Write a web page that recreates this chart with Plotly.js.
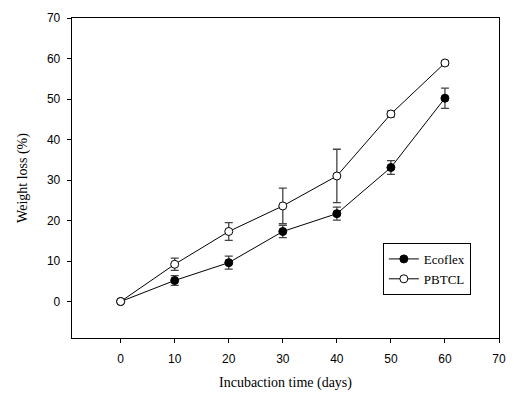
<!DOCTYPE html>
<html>
<head>
<meta charset="utf-8">
<script src="https://cdn.plot.ly/plotly-3.0.1.min.js"></script>
<style>html,body{margin:0;padding:0;background:#fff;}#chart{width:514px;height:395px;}</style>
</head>
<body>
<div id="chart"></div>
<script>
const days = [0, 10, 20, 30, 40, 50, 60];
const ecoflex = [0, 5.2, 9.6, 17.3, 21.7, 33.1, 50.2];
const ecoflexErr = [0, 1.2, 1.6, 1.5, 1.6, 1.7, 2.5];
const pbtcl = [0, 9.2, 17.3, 23.6, 31.0, 46.3, 58.9];
const pbtclErr = [0, 1.5, 2.2, 4.4, 6.6, 0.7, 0.5];
const xTicks = [0, 10, 20, 30, 40, 50, 60, 70];
const yTicks = [0, 10, 20, 30, 40, 50, 60, 70];

const errStyle = {type: 'data', visible: true, color: '#444', thickness: 1.3, width: 4};
const traces = [
  {x: days, y: ecoflex, name: 'Ecoflex', mode: 'lines+markers', type: 'scatter',
   line: {color: '#000', width: 1},
   marker: {symbol: 'circle', size: 8, color: '#000', line: {color: '#000', width: 1}},
   error_y: Object.assign({array: ecoflexErr}, errStyle)},
  {x: days, y: pbtcl, name: 'PBTCL', mode: 'lines+markers', type: 'scatter',
   line: {color: '#000', width: 1},
   marker: {symbol: 'circle', size: 8, color: '#fff', line: {color: '#000', width: 1}},
   error_y: Object.assign({array: pbtclErr}, errStyle)}
];

const sansFam = '"Liberation Sans", Arial, sans-serif';
const serifFam = '"Liberation Serif", "Times New Roman", serif';
const tickFont = {family: sansFam, size: 12, color: '#000'};
const titleFont = {family: serifFam, size: 14, color: '#000'};

const layout = {
  width: 514, height: 395,
  margin: {l: 72, r: 15, t: 18, b: 57},
  paper_bgcolor: '#fff', plot_bgcolor: '#fff',
  font: {family: sansFam, color: '#000'},
  showlegend: true,
  legend: {x: 0.728, y: 0.297, xanchor: 'left', yanchor: 'top',
    bgcolor: '#fff', bordercolor: '#000', borderwidth: 1,
    font: {family: serifFam, size: 13, color: '#000'},
    itemwidth: 30, tracegroupgap: 0},
  xaxis: {range: [-9, 70], tickvals: xTicks, ticktext: xTicks.map(String),
    showgrid: false, zeroline: false, showline: true, linecolor: '#000', linewidth: 1.3,
    mirror: true, ticks: 'outside', ticklen: 4, tickcolor: '#000', tickwidth: 1,
    tickfont: tickFont, ticklabelstandoff: 5,
    title: {text: 'Incubaction time (days)', font: titleFont, standoff: 12}},
  yaxis: {range: [-9, 70], tickvals: yTicks, ticktext: yTicks.map(String),
    showgrid: false, zeroline: false, showline: true, linecolor: '#000', linewidth: 1.3,
    mirror: true, ticks: 'outside', ticklen: 4, tickcolor: '#000', tickwidth: 1,
    tickfont: tickFont, ticklabelstandoff: 4,
    title: {text: 'Weight loss (%)', font: titleFont, standoff: 16}}
};

Plotly.newPlot('chart', traces, layout, {displayModeBar: false, staticPlot: true});
</script>
</body>
</html>
